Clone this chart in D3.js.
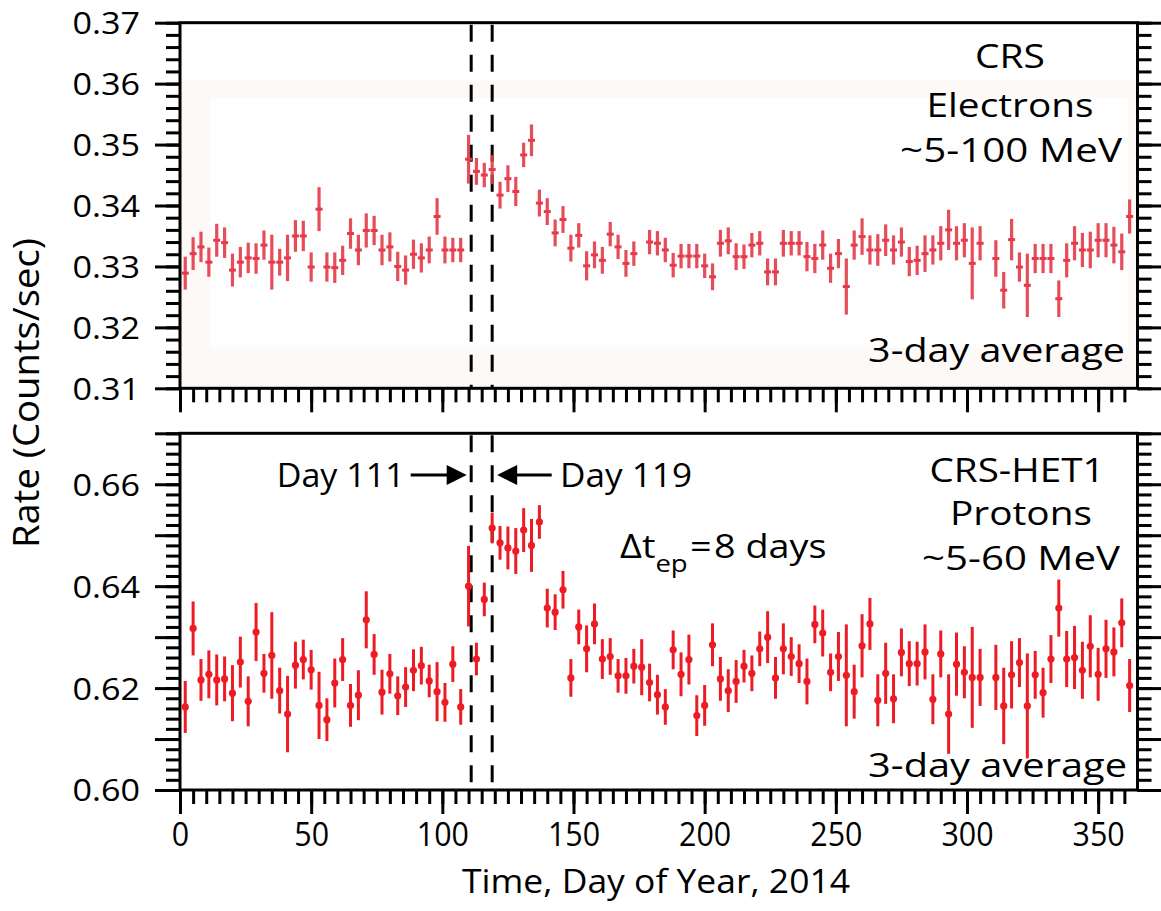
<!DOCTYPE html>
<html><head><meta charset="utf-8">
<script src="https://cdn.jsdelivr.net/npm/d3@7"></script>
<style>
body{margin:0;background:#fff}
svg{display:block}
text{font-family:"Open Sans","Noto Sans",sans-serif;fill:#000}
</style>
</head><body>
<svg id="c" width="1161" height="911"></svg>
<script>
// ---------------- DATA ----------------
const elecDays=[2,5,8,11,14,17,20,23,26,29,32,35,38,41,44,47,50,53,56,59,62,65,68,71,74,77,80,83,86,89,92,95,98,101,104,107,110,113,116,119,122,125,128,131,134,137,140,143,146,149,152,155,158,161,164,167,170,173,179,182,185,188,191,194,197,200,203,206,209,212,215,218,221,224,227,230,233,236,239,242,245,248,251,254,257,260,263,266,269,272,275,278,281,284,287,290,293,296,299,302,305,311,314,317,320,323,326,329,332,335,338,341,344,347,350,353,356,359,362];
const elecRate=[0.3289,0.3321,0.3332,0.3307,0.3343,0.3339,0.3294,0.3307,0.3314,0.3313,0.3335,0.3307,0.3307,0.3314,0.3350,0.3350,0.3299,0.3394,0.3299,0.3298,0.3310,0.3354,0.3327,0.3359,0.3359,0.3327,0.3332,0.3300,0.3294,0.3320,0.3314,0.3327,0.3382,0.3327,0.3327,0.3327,
0.3476,0.3456,0.3450,0.3459,
0.3417,0.3444,0.3423,0.3483,0.3507,0.3404,0.3390,0.3355,0.3377,0.3330,0.3351,0.3301,0.3319,0.3310,0.3353,0.3332,0.3305,0.3321,
0.3340,0.3338,0.3327,0.3302,0.3317,0.3317,0.3317,0.3301,0.3283,0.3338,0.3342,0.3316,0.3316,0.3335,0.3338,0.3291,0.3291,0.3338,0.3338,0.3338,0.3316,
0.3313,0.3335,0.3297,0.3321,0.3267,0.3335,0.3349,0.3327,0.3327,0.3343,0.3327,0.3340,0.3308,0.3310,0.3321,0.3327,0.3338,0.3360,0.3338,0.3343,0.3305,0.3338,
0.3313,0.3261,0.3344,0.3299,0.3269,0.3313,0.3313,0.3313,0.3247,0.3310,0.3338,0.3327,0.3327,0.3343,0.3343,0.3335,0.3324,0.3382];
const elecErr=[0.0027,0.0027,0.0025,0.0024,0.0027,0.0025,0.0027,0.0025,0.0025,0.0025,0.0024,0.0045,0.0022,0.0038,0.0026,0.0025,0.0024,0.0036,0.0024,0.0025,0.0024,0.0025,0.0025,0.0028,0.0024,0.0025,0.0024,0.0024,0.0024,0.0024,0.0024,0.0022,0.0030,0.0022,0.0020,0.0020,
0.0040,0.0022,0.0020,0.0024,
0.0022,0.0022,0.0024,0.0020,0.0026,0.0022,0.0022,0.0022,0.0022,0.0022,0.0020,0.0024,0.0022,0.0022,0.0020,0.0020,0.0022,0.0020,
0.0020,0.0020,0.0020,0.0020,0.0020,0.0020,0.0020,0.0020,0.0022,0.0022,0.0022,0.0022,0.0020,0.0020,0.0020,0.0022,0.0022,0.0022,0.0020,0.0020,0.0024,
0.0024,0.0024,0.0024,0.0024,0.0046,0.0024,0.0030,0.0024,0.0026,0.0026,0.0024,0.0024,0.0024,0.0024,0.0030,0.0024,0.0028,0.0033,0.0028,0.0028,0.0059,0.0028,
0.0030,0.0030,0.0034,0.0024,0.0052,0.0024,0.0024,0.0024,0.0030,0.0028,0.0028,0.0028,0.0030,0.0028,0.0028,0.0030,0.0030,0.0028];

const protDays=[2,5,8,11,14,17,20,23,26,29,32,35,38,41,44,47,50,53,56,59,62,65,68,71,74,77,80,83,86,89,92,95,98,101,104,107,110,113,116,119,122,125,128,131,134,137,140,143,146,149,152,155,158,161,164,167,170,173,176,179,182,185,188,191,194,197,200,203,206,209,212,215,218,221,224,227,230,233,236,239,242,245,248,251,254,257,260,263,266,269,272,275,278,281,284,287,290,293,296,299,302,305,311,314,317,320,323,326,329,332,335,338,341,344,347,350,353,356,359,362];
const protRate=[0.6163,0.6317,0.6216,0.6227,0.6216,0.6218,0.6190,0.6251,0.6174,0.6310,0.6229,0.6264,0.6195,0.6149,0.6245,0.6256,0.6236,0.6166,0.6138,0.6210,0.6256,0.6166,0.6186,0.6334,0.6266,0.6192,0.6228,0.6185,0.6202,0.6235,0.6244,0.6214,0.6193,0.6172,0.6247,0.6163,0.6400,0.6257,0.6374,0.6514,
0.6485,0.6475,0.6469,0.6510,0.6480,0.6526,0.6357,0.6349,0.6393,0.6220,0.6320,0.6277,0.6326,0.6257,0.6262,0.6224,0.6224,0.6243,0.6241,0.6211,0.6187,0.6163,
0.6275,0.6227,0.6256,0.6146,0.6166,0.6285,0.6218,0.6195,0.6213,0.6243,0.6229,0.6277,0.6300,0.6220,0.6277,0.6262,0.6248,0.6213,
0.6325,0.6308,0.6231,0.6262,0.6225,0.6193,0.6283,0.6326,0.6176,0.6229,0.6179,0.6270,0.6248,0.6248,0.6271,0.6178,0.6267,0.6149,0.6247,0.6231,0.6221,0.6221,
0.6221,0.6165,0.6226,0.6250,0.6165,0.6226,0.6191,0.6257,0.6357,0.6257,0.6260,0.6235,0.6282,0.6227,0.6277,0.6271,0.6328,0.6205];
const protErr=[0.0051,0.0053,0.0041,0.0047,0.0050,0.0044,0.0055,0.0050,0.0049,0.0057,0.0038,0.0085,0.0045,0.0075,0.0046,0.0039,0.0039,0.0066,0.0042,0.0048,0.0042,0.0042,0.0049,0.0056,0.0040,0.0044,0.0039,0.0038,0.0039,0.0041,0.0037,0.0032,0.0058,0.0038,0.0035,0.0035,0.0079,0.0032,0.0033,0.0030,
0.0033,0.0042,0.0045,0.0043,0.0052,0.0033,0.0038,0.0035,0.0037,0.0037,0.0034,0.0046,0.0040,0.0039,0.0036,0.0033,0.0035,0.0034,0.0055,0.0037,0.0039,0.0035,
0.0038,0.0043,0.0049,0.0040,0.0040,0.0042,0.0043,0.0042,0.0042,0.0032,0.0035,0.0034,0.0051,0.0041,0.0050,0.0038,0.0038,0.0045,
0.0037,0.0046,0.0037,0.0048,0.0100,0.0053,0.0062,0.0051,0.0051,0.0060,0.0048,0.0047,0.0044,0.0043,0.0054,0.0049,0.0046,0.0078,0.0062,0.0051,0.0099,0.0056,
0.0064,0.0075,0.0066,0.0048,0.0103,0.0047,0.0049,0.0047,0.0056,0.0055,0.0062,0.0056,0.0061,0.0052,0.0057,0.0048,0.0048,0.0052];

const eventDays=[111,119];
const xTickLabels=[0,50,100,150,200,250,300,350];
const topTickLabels=[0.31,0.32,0.33,0.34,0.35,0.36,0.37];
const botTickLabels=[0.60,0.62,0.64,0.66];
const topLabelLines=["CRS","Electrons","~5-100 MeV"];
const botLabelLines=["CRS-HET1","Protons","~5-60 MeV"];
const avgLabel="3-day average";
const yTitle="Rate (Counts/sec)";
const xTitle="Time, Day of Year, 2014";

// ---------------- LAYOUT ----------------
const svg=d3.select("#c");
const L=180, R=1137.5;
const x=d3.scaleLinear().domain([0,365]).range([L,R]);
const yTop=d3.scaleLinear().domain([0.31,0.37]).range([388.3,22.7]);
const yBot=d3.scaleLinear().domain([0.60,0.67]).range([790,433.3]);
const fmt=d3.format(".2f");

function txt(s,px,py,size,anchor,targetW,rot){
  const t=svg.append("text").attr("font-size",size).attr("text-anchor",anchor).text(s);
  const w=t.node().getComputedTextLength();
  const sx=targetW? targetW/w:1;
  t.attr("transform",`translate(${px},${py})${rot?` rotate(${rot})`:""} scale(${sx},1)`);
  return t;
}

// faint background of the top panel (scanned image tint)
svg.append("rect").attr("x",L).attr("y",yTop(0.3605)).attr("width",R-L).attr("height",yTop(0.31)-yTop(0.3605)).attr("fill","#fdf9f7");
svg.append("rect").attr("x",210).attr("y",98).attr("width",918).attr("height",250).attr("fill","#fffefe");

function panel(y,lo,hi,labels,showXLabels){
  const minor=d3.range(Math.round((hi-lo)/0.002)+1).map(i=>lo+i*0.002);
  const major=d3.range(Math.round((hi-lo)/0.01)+1).map(i=>lo+i*0.01);
  const [yb,yt]=y.range();
  const add=(axis,tx,ty)=>{
    const g=svg.append("g").attr("transform",`translate(${tx},${ty})`).call(axis);
    g.select(".domain").remove();
    g.selectAll(".tick line").attr("stroke","#000").attr("stroke-width",3);
    return g;
  };
  add(d3.axisLeft(y).tickValues(minor).tickSize(14).tickFormat(""),L,0);
  add(d3.axisLeft(y).tickValues(major).tickSize(25).tickFormat(""),L,0);
  add(d3.axisRight(y).tickValues(minor).tickSize(14).tickFormat(""),R,0);
  add(d3.axisRight(y).tickValues(major).tickSize(25).tickFormat(""),R,0);
  const xm=d3.range(0,361,5), xM=d3.range(0,361,50);
  add(d3.axisBottom(x).tickValues(xm).tickSize(14).tickFormat(""),0,yb);
  add(d3.axisBottom(x).tickValues(xM).tickSize(24).tickFormat(""),0,yb);
  // y labels
  const gl=svg.append("g").attr("transform",`translate(${L},0)`).call(d3.axisLeft(y).tickValues(labels).tickSize(0).tickFormat(fmt));
  gl.select(".domain").remove();
  gl.selectAll("text").attr("x",0).attr("dy","0.36em").attr("font-size",30.5)
    .style("font-family",'"Open Sans",sans-serif').attr("fill","#000")
    .attr("transform","translate(-40,0) scale(1.12,1)");
  if(showXLabels){
    const gx=svg.append("g").attr("transform",`translate(0,${yb})`).call(d3.axisBottom(x).tickValues(xTickLabels).tickSize(0).tickFormat(d3.format("d")));
    gx.select(".domain").remove();
    gx.selectAll("text").attr("y",0).attr("dy",0).attr("font-size",32)
      .style("font-family",'"Open Sans",sans-serif').attr("fill","#000")
      .attr("transform","translate(0,56) scale(0.95,1)");
  }
  // frame
  svg.append("rect").attr("x",L).attr("y",yt).attr("width",R-L).attr("height",yb-yt)
    .attr("fill","none").attr("stroke","#000").attr("stroke-width",3);
  // event lines
  svg.selectAll(null).data(eventDays).enter().append("line")
    .attr("x1",d=>x(d)).attr("x2",d=>x(d)).attr("y1",yt+2).attr("y2",yb-1)
    .attr("stroke","#000").attr("stroke-width",3).attr("stroke-dasharray","17,13");
}

// ---------------- TOP PANEL ----------------
panel(yTop,0.31,0.37,topTickLabels,false);
const eCol="#e43a4a";
const eData=elecDays.map((d,i)=>({d,v:elecRate[i],e:elecErr[i]}));
const ge=svg.append("g");
ge.selectAll("line.eb").data(eData).enter().append("line")
  .attr("x1",p=>x(p.d)).attr("x2",p=>x(p.d)).attr("y1",p=>yTop(p.v-p.e)).attr("y2",p=>yTop(p.v+p.e))
  .attr("stroke",eCol).attr("stroke-width",3.2).attr("opacity",0.9);
ge.selectAll("line.mk").data(eData).enter().append("line")
  .attr("x1",p=>x(p.d)-3.5).attr("x2",p=>x(p.d)+3.5).attr("y1",p=>yTop(p.v)).attr("y2",p=>yTop(p.v))
  .attr("stroke",eCol).attr("stroke-width",3);

// ---------------- BOTTOM PANEL ----------------
panel(yBot,0.60,0.67,botTickLabels,true);
const pCol="#ed1c24";
const pData=protDays.map((d,i)=>({d,v:protRate[i],e:protErr[i]}));
const gp=svg.append("g");
gp.selectAll("line").data(pData).enter().append("line")
  .attr("x1",p=>x(p.d)).attr("x2",p=>x(p.d)).attr("y1",p=>yBot(p.v-p.e)).attr("y2",p=>yBot(p.v+p.e))
  .attr("stroke",pCol).attr("stroke-width",3);
gp.selectAll("circle").data(pData).enter().append("circle")
  .attr("cx",p=>x(p.d)).attr("cy",p=>yBot(p.v)).attr("r",3.6).attr("fill",pCol);

// ---------------- TEXT ----------------
txt(topLabelLines[0],1010,68,33,"middle",70);
txt(topLabelLines[1],1010,116.7,33,"middle",167);
txt(topLabelLines[2],1011,161.7,33,"middle",222);
txt(avgLabel,1125,361.7,33,"end",257);
txt(botLabelLines[0],1017,481.7,33,"middle",175);
txt(botLabelLines[1],1021,525,33,"middle",142);
txt(botLabelLines[2],1021,570,33,"middle",198);
txt(avgLabel,1127,777,33,"end",259);

txt("Day 111",276.7,486.7,33,"start",128);
txt("Day 119",560,486.7,33,"start",132);
// arrows
const ay=475;
const t1=x(eventDays[0])-4.5, t2=x(eventDays[1])+5;
svg.append("line").attr("x1",410.7).attr("x2",t1-18).attr("y1",ay).attr("y2",ay).attr("stroke","#000").attr("stroke-width",3.2);
svg.append("path").attr("d",`M${t1},${ay} L${t1-20},${ay-10} L${t1-20},${ay+10} Z`).attr("fill","#000");
svg.append("line").attr("x1",t2+18).attr("x2",551.7).attr("y1",ay).attr("y2",ay).attr("stroke","#000").attr("stroke-width",3.2);
svg.append("path").attr("d",`M${t2},${ay} L${t2+20},${ay-10} L${t2+20},${ay+10} Z`).attr("fill","#000");

// Delta t_ep = 8 days
{
  const t=svg.append("text").attr("font-size",33);
  t.append("tspan").text("\u0394t");
  t.append("tspan").attr("font-size",24).attr("dy",14).text("ep");
  t.append("tspan").attr("dy",-14).attr("dx",2).text("=");
  t.append("tspan").attr("dx",2).text("8 days");
  const w=t.node().getComputedTextLength();
  t.attr("transform",`translate(620,558.3) scale(${202/w},1)`);
}

// axis titles
txt(yTitle,38.5,393,36,"middle",310,-90);
txt(xTitle,656,893,33,"middle",388);
</script>
</body></html>
